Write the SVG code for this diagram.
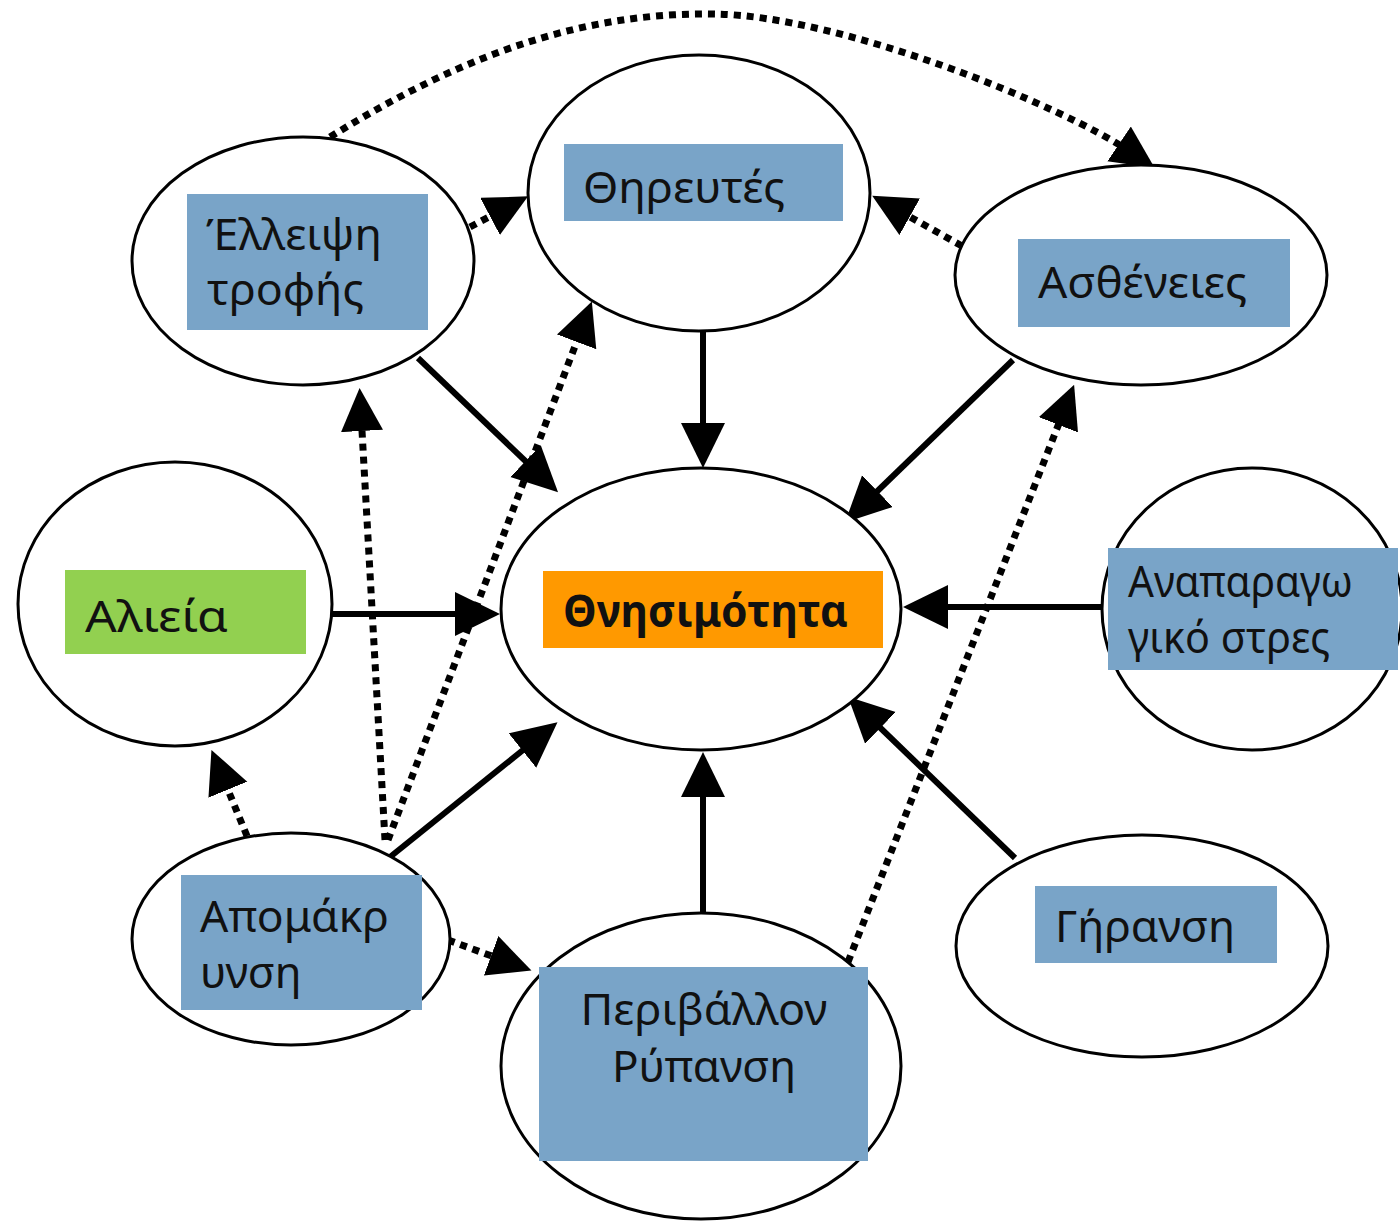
<svg xmlns="http://www.w3.org/2000/svg" width="1400" height="1222" viewBox="0 0 1400 1222">
  <style>
    .node ellipse { fill: #ffffff; stroke: #000000; stroke-width: 3; }
    .box { fill: #79a4c8; }
    .lbl { font-family: "Noto Sans", "Open Sans", "DejaVu Sans", sans-serif; font-size: 44px; fill: #111111; }
    .solid { fill: none; stroke: #000000; stroke-width: 6; marker-end: url(#head); }
    .dot { fill: none; stroke: #000000; stroke-width: 7; stroke-dasharray: 7 6; marker-end: url(#head2); }
  </style>
  <defs>
    <marker id="head" markerUnits="userSpaceOnUse" markerWidth="46" markerHeight="46" refX="20" refY="22" orient="auto">
      <path d="M0,0 L45,22 L0,44 z" fill="#000000"/>
    </marker>
    <marker id="head2" markerUnits="userSpaceOnUse" markerWidth="44" markerHeight="44" refX="18" refY="21" orient="auto">
      <path d="M0,0 L43,21 L0,42 z" fill="#000000"/>
    </marker>
  </defs>
  <rect width="1400" height="1222" fill="#ffffff"/>

  <g id="connectors">
    <path class="solid" d="M418,358 L540,475"/>
    <path class="solid" d="M703,330 L703,443"/>
    <path class="solid" d="M1013,360 L863,505"/>
    <path class="solid" d="M332,614 L475,614"/>
    <path class="solid" d="M1102,607 L928,607"/>
    <path class="solid" d="M1015,858 L866,714"/>
    <path class="solid" d="M703,912 L703,777"/>
    <path class="solid" d="M390,857 L538,738"/>
    <path class="dot" d="M330,137 C470,50 590,12 715,14 C840,16 1060,104 1134,154"/>
    <path class="dot" d="M470,227 L506,208"/>
    <path class="dot" d="M962,246 L894,208"/>
    <path class="dot" d="M385,840 L361,413"/>
    <path class="dot" d="M388,840 L583,325"/>
    <path class="dot" d="M247,836 L221,773"/>
    <path class="dot" d="M448,940 L508,962"/>
    <path class="dot" d="M848,962 L1065,408"/>
  </g>

  <g id="node-elleipsi" class="node">
    <ellipse cx="303" cy="261" rx="171" ry="124"/>
    <rect class="box" x="187" y="194" width="241" height="136"/>
    <text class="lbl" x="206" y="250" textLength="176" lengthAdjust="spacingAndGlyphs">Έλλειψη</text>
    <text class="lbl" x="207" y="305" textLength="157" lengthAdjust="spacingAndGlyphs">τροφής</text>
  </g>
  <g id="node-thireutes" class="node">
    <ellipse cx="699" cy="193" rx="171" ry="138"/>
    <rect class="box" x="564" y="144" width="279" height="77"/>
    <text class="lbl" x="583" y="203" font-size="45" textLength="202" lengthAdjust="spacingAndGlyphs">Θηρευτές</text>
  </g>
  <g id="node-astheneies" class="node">
    <ellipse cx="1141" cy="275" rx="186" ry="110"/>
    <rect class="box" x="1018" y="239" width="272" height="88"/>
    <text class="lbl" x="1038" y="298" font-size="45" textLength="209" lengthAdjust="spacingAndGlyphs">Ασθένειες</text>
  </g>
  <g id="node-alieia" class="node">
    <ellipse cx="175" cy="604" rx="157" ry="142"/>
    <rect x="65" y="570" width="241" height="84" fill="#92d050"/>
    <text class="lbl" x="85" y="632" font-size="48" textLength="143" lengthAdjust="spacingAndGlyphs">Αλιεία</text>
  </g>
  <g id="node-thnisimotita" class="node">
    <ellipse cx="701" cy="609" rx="200" ry="141"/>
    <rect x="543" y="571" width="340" height="77" fill="#ff9900"/>
    <text class="lbl" x="563" y="627" font-weight="bold" textLength="285" lengthAdjust="spacingAndGlyphs">Θνησιμότητα</text>
  </g>
  <g id="node-anaparagogiko" class="node">
    <ellipse cx="1252" cy="609" rx="150" ry="141"/>
    <rect class="box" x="1108" y="548" width="290" height="122"/>
    <text class="lbl" x="1128" y="597" font-size="39" textLength="225" lengthAdjust="spacingAndGlyphs">Αναπαραγω</text>
    <text class="lbl" x="1128" y="653" font-size="39" textLength="202" lengthAdjust="spacingAndGlyphs">γικό στρες</text>
  </g>
  <g id="node-apomakrynsi" class="node">
    <ellipse cx="291" cy="939" rx="159" ry="106"/>
    <rect class="box" x="181" y="875" width="241" height="135"/>
    <text class="lbl" x="200" y="932" textLength="189" lengthAdjust="spacingAndGlyphs">Απομάκρ</text>
    <text class="lbl" x="200" y="988">υνση</text>
  </g>
  <g id="node-perivallon" class="node">
    <ellipse cx="701" cy="1066" rx="200" ry="153"/>
    <rect class="box" x="539" y="967" width="329" height="194"/>
    <text class="lbl" x="704" y="1025" text-anchor="middle" textLength="247" lengthAdjust="spacingAndGlyphs">Περιβάλλον</text>
    <text class="lbl" x="704" y="1082" text-anchor="middle" textLength="184" lengthAdjust="spacingAndGlyphs">Ρύπανση</text>
  </g>
  <g id="node-giransi" class="node">
    <ellipse cx="1142" cy="946" rx="186" ry="111"/>
    <rect class="box" x="1035" y="886" width="242" height="77"/>
    <text class="lbl" x="1055" y="942" textLength="180" lengthAdjust="spacingAndGlyphs">Γήρανση</text>
  </g>
</svg>
